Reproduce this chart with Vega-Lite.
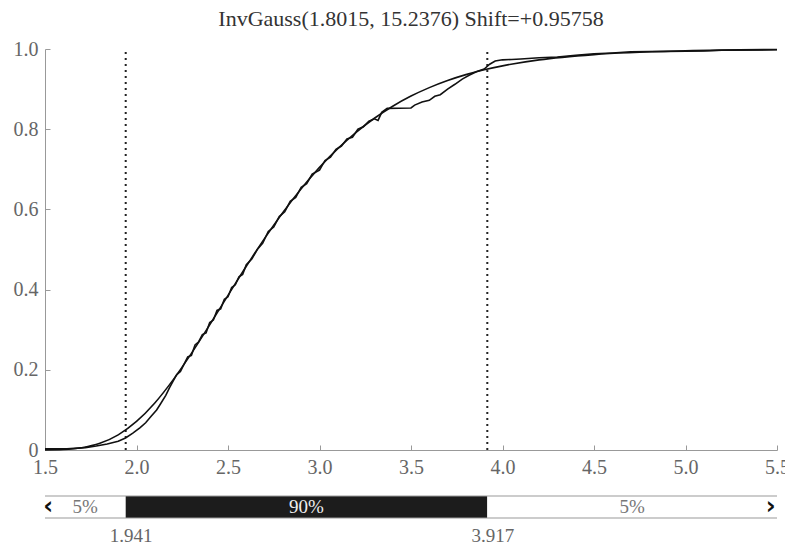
{
  "$schema": "https://vega.github.io/schema/vega-lite/v6.json",
  "background": "white",
  "padding": {"left": 13, "top": 8, "right": 0, "bottom": 2},
  "config": {"view": {"stroke": null}, "font": "Liberation Serif, Times New Roman, serif"},
  "datasets": {
    "quantiles": [{"q": 1.941}, {"q": 3.917}],
    "fit": [
      {"x": 1.5, "p": 0.0002}, {"x": 1.6, "p": 0.0013}, {"x": 1.7, "p": 0.0056}, {"x": 1.8, "p": 0.0166},
      {"x": 1.9, "p": 0.0377}, {"x": 2.0, "p": 0.0712}, {"x": 2.1, "p": 0.1173}, {"x": 2.2, "p": 0.1749},
      {"x": 2.3, "p": 0.2409}, {"x": 2.4, "p": 0.3123}, {"x": 2.5, "p": 0.3855}, {"x": 2.6, "p": 0.4582},
      {"x": 2.7, "p": 0.5277}, {"x": 2.8, "p": 0.5925}, {"x": 2.9, "p": 0.6516}, {"x": 3.0, "p": 0.7048},
      {"x": 3.1, "p": 0.7515}, {"x": 3.2, "p": 0.7923}, {"x": 3.3, "p": 0.8273}, {"x": 3.4, "p": 0.8573},
      {"x": 3.5, "p": 0.8826}, {"x": 3.6, "p": 0.9037}, {"x": 3.7, "p": 0.9214}, {"x": 3.8, "p": 0.9361},
      {"x": 3.9, "p": 0.9482}, {"x": 4.0, "p": 0.958}, {"x": 4.2, "p": 0.9728}, {"x": 4.5, "p": 0.986},
      {"x": 5.0, "p": 0.9955}, {"x": 5.5, "p": 0.9986}
    ],
    "ecdf": [
      {"x": 1.5, "p": 0.003}, {"x": 1.55, "p": 0.003}, {"x": 1.62, "p": 0.003}, {"x": 1.66, "p": 0.004},
      {"x": 1.72, "p": 0.006}, {"x": 1.78, "p": 0.01}, {"x": 1.84, "p": 0.015}, {"x": 1.9, "p": 0.022},
      {"x": 1.94, "p": 0.03}, {"x": 1.98, "p": 0.042}, {"x": 2.02, "p": 0.056}, {"x": 2.05, "p": 0.068},
      {"x": 2.08, "p": 0.084}, {"x": 2.11, "p": 0.1}, {"x": 2.13, "p": 0.114}, {"x": 2.16, "p": 0.136},
      {"x": 2.18, "p": 0.155}, {"x": 2.2, "p": 0.172}, {"x": 2.22, "p": 0.188}, {"x": 2.24, "p": 0.196},
      {"x": 2.26, "p": 0.214}, {"x": 2.28, "p": 0.232}, {"x": 2.3, "p": 0.236}, {"x": 2.32, "p": 0.262},
      {"x": 2.34, "p": 0.27}, {"x": 2.36, "p": 0.288}, {"x": 2.38, "p": 0.292}, {"x": 2.4, "p": 0.318},
      {"x": 2.42, "p": 0.324}, {"x": 2.44, "p": 0.348}, {"x": 2.46, "p": 0.352}, {"x": 2.48, "p": 0.376},
      {"x": 2.5, "p": 0.382}, {"x": 2.52, "p": 0.405}, {"x": 2.54, "p": 0.412}, {"x": 2.56, "p": 0.432},
      {"x": 2.58, "p": 0.438}, {"x": 2.6, "p": 0.462}, {"x": 2.63, "p": 0.476}, {"x": 2.66, "p": 0.5},
      {"x": 2.69, "p": 0.516}, {"x": 2.72, "p": 0.545}, {"x": 2.75, "p": 0.556}, {"x": 2.78, "p": 0.582},
      {"x": 2.81, "p": 0.594}, {"x": 2.84, "p": 0.62}, {"x": 2.87, "p": 0.63}, {"x": 2.9, "p": 0.655},
      {"x": 2.93, "p": 0.664}, {"x": 2.96, "p": 0.688}, {"x": 3.0, "p": 0.698}, {"x": 3.03, "p": 0.722},
      {"x": 3.06, "p": 0.73}, {"x": 3.09, "p": 0.75}, {"x": 3.12, "p": 0.758}, {"x": 3.15, "p": 0.776},
      {"x": 3.18, "p": 0.78}, {"x": 3.21, "p": 0.8}, {"x": 3.24, "p": 0.806}, {"x": 3.27, "p": 0.82},
      {"x": 3.3, "p": 0.826}, {"x": 3.32, "p": 0.822}, {"x": 3.34, "p": 0.842}, {"x": 3.37, "p": 0.852},
      {"x": 3.5, "p": 0.853}, {"x": 3.52, "p": 0.86}, {"x": 3.56, "p": 0.868}, {"x": 3.6, "p": 0.872},
      {"x": 3.63, "p": 0.882}, {"x": 3.66, "p": 0.886}, {"x": 3.7, "p": 0.9}, {"x": 3.74, "p": 0.912},
      {"x": 3.78, "p": 0.925}, {"x": 3.82, "p": 0.935}, {"x": 3.86, "p": 0.944}, {"x": 3.9, "p": 0.95},
      {"x": 3.93, "p": 0.962}, {"x": 3.96, "p": 0.97}, {"x": 4.0, "p": 0.973}, {"x": 4.05, "p": 0.974},
      {"x": 4.1, "p": 0.975}, {"x": 4.2, "p": 0.978}, {"x": 4.3, "p": 0.98}, {"x": 4.4, "p": 0.984},
      {"x": 4.5, "p": 0.988}, {"x": 4.6, "p": 0.99}, {"x": 4.7, "p": 0.993}, {"x": 4.9, "p": 0.994},
      {"x": 5.1, "p": 0.995}, {"x": 5.2, "p": 0.997}, {"x": 5.5, "p": 0.998}
    ],
    "segs": [
      {"seg": "lo", "from": 1.5, "to": 1.941},
      {"seg": "mid", "from": 1.941, "to": 3.917},
      {"seg": "hi", "from": 3.917, "to": 5.5}
    ],
    "edges": [{"e": 0}, {"e": 1}],
    "pct": [
      {"x": 1.72, "label": "5%", "seg": "lo"},
      {"x": 2.929, "label": "90%", "seg": "mid"},
      {"x": 4.708, "label": "5%", "seg": "hi"}
    ],
    "arrows": [{"x": 1.517, "label": "‹"}, {"x": 5.465, "label": "›"}]
  },
  "spacing": 46,
  "bounds": "flush",
  "vconcat": [
    {
      "width": 732,
      "height": 401,
      "title": {"text": "InvGauss(1.8015, 15.2376) Shift=+0.95758", "font": "Liberation Serif, Times New Roman, serif", "fontSize": 22, "fontWeight": "normal", "color": "#333", "offset": 8},
      "layer": [
        {
          "data": {"name": "quantiles"},
          "mark": {"type": "rule", "strokeDash": [2, 4], "strokeWidth": 2, "color": "#222"},
          "encoding": {
            "x": {"field": "q", "type": "quantitative", "title": null,
              "scale": {"domain": [1.5, 5.5], "nice": false, "zero": false},
              "axis": {"values": [1.5, 2.0, 2.5, 3.0, 3.5, 4.0, 4.5, 5.0, 5.5], "format": ".1f", "tickSize": -5, "labelPadding": 12, "labelFlush": false, "domainColor": "#999", "tickColor": "#999", "labelColor": "#666", "labelFont": "Liberation Serif, Times New Roman, serif", "labelFontSize": 20, "grid": false, "title": null}},
            "y": {"datum": 0, "type": "quantitative", "title": null,
              "scale": {"domain": [0, 1], "nice": false},
              "axis": {"values": [0, 0.2, 0.4, 0.6, 0.8, 1.0], "labelExpr": "datum.value == 0 ? '0' : format(datum.value, '.1f')", "tickSize": -5, "labelPadding": 12, "labelFlush": false, "domainColor": "#999", "tickColor": "#999", "labelColor": "#666", "labelFont": "Liberation Serif, Times New Roman, serif", "labelFontSize": 20, "grid": false, "title": null}},
            "y2": {"datum": 1}
          }
        },
        {
          "data": {"name": "fit"},
          "mark": {"type": "line", "interpolate": "monotone", "color": "#111", "strokeWidth": 1.6},
          "encoding": {
            "x": {"field": "x", "type": "quantitative", "title": null},
            "y": {"field": "p", "type": "quantitative", "title": null}
          }
        },
        {
          "data": {"name": "ecdf"},
          "mark": {"type": "line", "interpolate": "linear", "color": "#111", "strokeWidth": 1.6},
          "encoding": {
            "x": {"field": "x", "type": "quantitative", "title": null},
            "y": {"field": "p", "type": "quantitative", "title": null}
          }
        }
      ]
    },
    {
      "width": 732,
      "height": 22,
      "layer": [
        {
          "data": {"name": "segs"},
          "mark": {"type": "rect"},
          "encoding": {
            "x": {"field": "from", "type": "quantitative", "title": null,
              "scale": {"domain": [1.5, 5.5], "nice": false, "zero": false},
              "axis": {"values": [1.941, 3.917], "format": ".3f", "domain": false, "ticks": false, "labelPadding": 8, "labelOffset": 5, "labelFlush": false, "labelColor": "#666", "labelFont": "Liberation Serif, Times New Roman, serif", "labelFontSize": 19, "grid": false, "title": null}},
            "x2": {"field": "to"},
            "y": {"datum": 0, "type": "quantitative", "scale": {"domain": [0, 1], "nice": false}, "axis": null},
            "y2": {"datum": 1},
            "fill": {"condition": {"test": "datum.seg === 'mid'", "value": "#1c1c1c"}, "value": "white"}
          }
        },
        {
          "data": {"name": "edges"},
          "mark": {"type": "rule", "color": "#999", "strokeWidth": 1},
          "encoding": {
            "x": {"datum": 1.5, "type": "quantitative"},
            "x2": {"datum": 5.5},
            "y": {"field": "e", "type": "quantitative", "axis": null}
          }
        },
        {
          "data": {"name": "pct"},
          "mark": {"type": "text", "font": "Liberation Serif, Times New Roman, serif", "fontSize": 19, "baseline": "middle", "align": "center"},
          "encoding": {
            "x": {"field": "x", "type": "quantitative"},
            "y": {"datum": 0.5, "type": "quantitative"},
            "text": {"field": "label"},
            "fill": {"condition": {"test": "datum.seg === 'mid'", "value": "#eeeeee"}, "value": "#777"}
          }
        },
        {
          "data": {"name": "arrows"},
          "mark": {"type": "text", "font": "DejaVu Sans", "fontWeight": "bold", "fontSize": 24, "baseline": "middle", "align": "center", "color": "#111"},
          "encoding": {
            "x": {"field": "x", "type": "quantitative"},
            "y": {"datum": 0.5, "type": "quantitative"},
            "text": {"field": "label"}
          }
        }
      ]
    }
  ]
}
